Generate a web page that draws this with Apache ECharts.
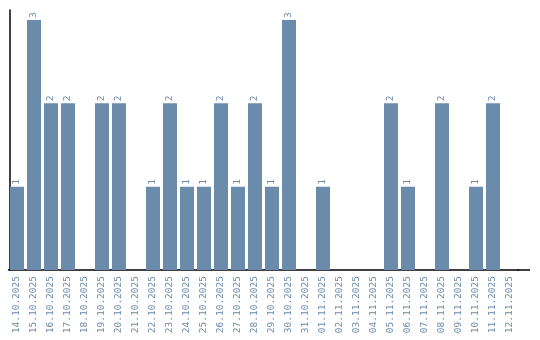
<!DOCTYPE html>
<html>
<head>
<meta charset="utf-8">
<script src="https://cdn.jsdelivr.net/npm/echarts@6/dist/echarts.min.js"></script>
<style>html,body{margin:0;padding:0;background:#fff}#c{width:540px;height:340px}</style>
</head>
<body>
<div id="c"></div>
<script>
const categories = ["14.10.2025","15.10.2025","16.10.2025","17.10.2025","18.10.2025","19.10.2025","20.10.2025","21.10.2025","22.10.2025","23.10.2025","24.10.2025","25.10.2025","26.10.2025","27.10.2025","28.10.2025","29.10.2025","30.10.2025","31.10.2025","01.11.2025","02.11.2025","03.11.2025","04.11.2025","05.11.2025","06.11.2025","07.11.2025","08.11.2025","09.11.2025","10.11.2025","11.11.2025","12.11.2025"];
const counts = [1,3,2,2,0,2,2,0,1,2,1,1,2,1,2,1,3,0,1,0,0,0,2,1,0,2,0,1,2,0];

const chart = echarts.init(document.getElementById('c'), null, {renderer:'canvas'});
const font = '"DejaVu Sans Mono", "Liberation Mono", monospace';
const gridLeft = 8.5, gridRight = 21.5, gridTop = 10, gridBottom = 70;
chart.setOption({
  animation: false,
  grid: {left: gridLeft, right: gridRight, top: gridTop, bottom: gridBottom},
  graphic: [{
    type: 'line', silent: true,
    shape: {x1: 540 - gridRight - 1, y1: 340 - gridBottom, x2: 530, y2: 340 - gridBottom},
    style: {stroke: '#000', lineWidth: 1.5}
  }],
  xAxis: {
    type: 'category',
    data: categories,
    axisLine: {lineStyle: {color: '#000', width: 1.5}},
    axisTick: {show: false},
    axisLabel: {rotate: 90, interval: 0, margin: 6, color: '#6a8bab', fontFamily: font, fontSize: 9.5}
  },
  yAxis: {
    type: 'value',
    min: 0, max: 3.12,
    offset: -1.5,
    axisLine: {show: true, lineStyle: {color: '#000', width: 1.5}},
    axisTick: {show: false},
    axisLabel: {show: false},
    splitLine: {show: false}
  },
  series: [{
    type: 'bar',
    data: counts.map(v => v === 0 ? null : v),
    barWidth: 14,
    itemStyle: {color: '#6a8caa'},
    label: {
      show: true, position: 'top', rotate: 90, align: 'left', verticalAlign: 'middle',
      distance: 2, color: '#6a8bab', fontFamily: font, fontSize: 9.5
    }
  }]
});
</script>
</body>
</html>
